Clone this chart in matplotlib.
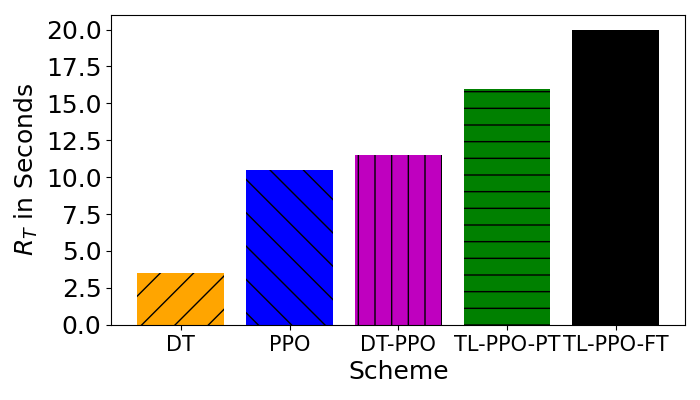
import matplotlib
matplotlib.use("Agg")
import matplotlib.pyplot as plt
from matplotlib.ticker import MultipleLocator

schemes = ["DT", "PPO", "DT-PPO", "TL-PPO-PT", "TL-PPO-FT"]
response_time = [3.5, 10.5, 11.5, 16.0, 20.0]
colors = ["orange", "blue", "m", "green", "black"]
hatches = ["/", "\\", "|", "-", ""]


def job():
    fig, ax = plt.subplots(figsize=(7, 4), dpi=100)
    bars = ax.bar(schemes, response_time, color=colors)
    for bar, h in zip(bars, hatches):
        bar.set_hatch(h)
    ax.yaxis.set_major_locator(MultipleLocator(2.5))
    ax.set_xlabel("Scheme", fontsize=18)
    ax.set_ylabel("$R_T$ in Seconds", fontsize=18)
    ax.tick_params(axis="x", labelsize=15)
    ax.tick_params(axis="y", labelsize=18)
    fig.subplots_adjust(left=0.159, right=0.979, top=0.963, bottom=0.188)
    fig.savefig("out.png")


if __name__ == '__main__':
    job()
